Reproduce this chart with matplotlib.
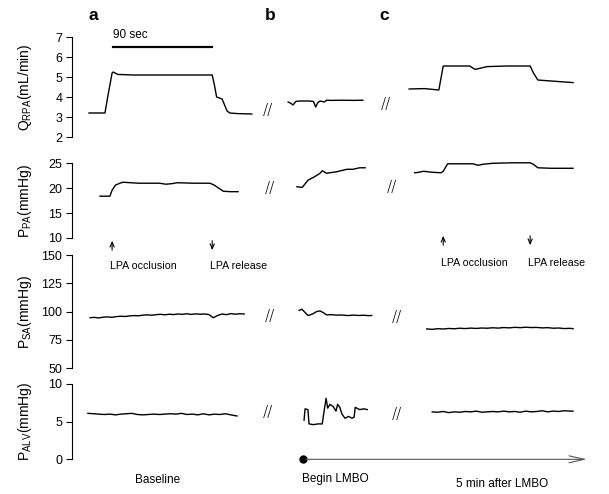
"""Hemodynamic traces at baseline, at LMBO onset and 5 min after LMBO."""

import matplotlib
matplotlib.use("Agg")
import matplotlib.pyplot as plt

plt.rcParams["font.family"] = ["Liberation Sans", "DejaVu Sans"]
plt.rcParams["mathtext.fontset"] = "custom"
plt.rcParams["mathtext.rm"] = "Liberation Sans"
plt.rcParams["mathtext.it"] = "Liberation Sans"

# ---- traces (time in s) ----
# Q_RPA (mL/min)
q_a_t = [0, 14.5, 17, 21, 22, 26, 40, 60, 80, 100, 112, 114, 116, 121, 125.5, 128, 135, 148]
q_a_v = [3.2, 3.2, 4.0, 5.2, 5.25, 5.13, 5.1, 5.1, 5.1, 5.1, 5.1, 4.6, 4.0, 3.9, 3.3, 3.2, 3.17, 3.15]
q_b_t = [181, 183, 185.5, 188, 192, 200, 204, 206, 208, 210, 214, 216, 220, 230, 240, 249]
q_b_v = [3.75, 3.7, 3.6, 3.78, 3.8, 3.8, 3.78, 3.5, 3.72, 3.8, 3.75, 3.84, 3.83, 3.84, 3.83, 3.84]
q_c_t = [291, 305, 318, 322, 330, 346, 351, 362, 380, 401, 404, 408, 420, 440]
q_c_v = [4.4, 4.42, 4.35, 5.55, 5.55, 5.55, 5.38, 5.52, 5.55, 5.55, 5.2, 4.85, 4.8, 4.72]

# P_PA (mmHg)
ppa_a_t = [10, 19, 21, 24, 28, 31, 45, 64, 70, 75, 80, 95, 110, 114, 118, 122, 128, 135.5]
ppa_a_v = [18.4, 18.4, 19.6, 20.6, 21.0, 21.2, 21.0, 21.0, 20.8, 20.9, 21.1, 21.0, 21.0, 20.6, 20.0, 19.4, 19.3, 19.3]
ppa_b_t = [189, 192, 194, 199, 205, 210, 212, 216, 225, 234.5, 240, 246, 251]
ppa_b_v = [20.3, 20.2, 20.2, 21.6, 22.3, 23.0, 23.5, 23.0, 23.3, 23.8, 23.8, 24.1, 24.1]
ppa_c_t = [296, 300, 304, 312, 320, 322, 326, 340, 349, 353.6, 358, 367, 385, 401, 404, 408, 420, 440]
ppa_c_v = [23.1, 23.2, 23.4, 23.2, 23.1, 23.4, 24.9, 24.9, 24.9, 24.6, 24.8, 25.0, 25.1, 25.1, 24.8, 24.1, 24.0, 24.0]

# P_SA (mmHg)
psa_a_t = [1, 5, 9, 13, 17, 21, 25, 29, 33, 37, 41, 45, 49, 53, 57, 61, 65, 69,
           73, 77, 81, 85, 89, 93, 97, 101, 105, 109, 113, 117, 121, 125, 129, 133, 137, 141]
psa_a_v = [94.5, 94.8, 94.3, 95.0, 95.2, 94.9, 95.5, 95.8, 95.6, 96.1, 96.4, 96.2,
           96.8, 97.0, 96.7, 97.2, 97.5, 97.1, 97.6, 97.3, 97.8, 97.5, 98.0, 97.4,
           97.9, 97.6, 97.8, 97.3, 94.5, 96.5, 97.8, 97.2, 98.1, 97.6, 98.0, 97.8]
psa_b_t = [191, 193.6, 196, 199, 201, 203.6, 207, 210, 213, 216, 220, 225, 230, 235, 240, 245, 250, 254, 257]
psa_b_v = [101, 102, 99.5, 96.5, 97, 98, 100, 100.5, 99, 97, 97.2, 96.8, 96.9, 96.4, 96.8, 96.5, 96.7, 96.3, 96.5]
psa_c_t = [307, 312, 317, 322, 327, 332, 337, 342, 347, 352, 357, 362, 367, 372,
           377, 382, 387, 392, 397, 402, 407, 412, 417, 422, 427, 432, 437, 440]
psa_c_v = [84.6, 84.2, 84.8, 84.5, 85.0, 84.7, 85.2, 84.9, 85.3, 85.0, 85.4, 85.2,
           85.6, 85.3, 85.8, 85.5, 86.0, 85.7, 86.1, 85.8, 85.9, 85.5, 85.7, 85.2,
           85.4, 84.9, 85.1, 84.8]

# P_ALV (mmHg)
palv_a_t = [-1, 4, 9, 14, 19, 24, 29, 34, 39, 44, 49, 54, 59, 64, 69, 74, 79, 84,
            89, 94, 99, 104, 109, 114, 119, 124, 129, 134.5]
palv_a_v = [6.1, 6.05, 6.0, 5.95, 6.0, 5.9, 6.0, 6.05, 6.1, 5.95, 5.9, 5.95, 6.0,
            5.95, 6.0, 6.05, 6.0, 6.1, 5.95, 6.0, 5.9, 6.05, 5.9, 6.0, 5.95, 6.05, 5.9, 5.75]
palv_b_t = [195.5, 196.4, 199, 200, 204, 208, 212, 213.6, 215.5, 217, 219, 222,
            224.5, 226, 228, 230, 232.7, 236, 239, 241, 242, 246, 250, 253]
palv_b_v = [5.2, 6.7, 6.6, 4.7, 4.6, 4.7, 4.7, 6.3, 8.1, 6.8, 7.3, 7.0, 6.4, 7.3,
            6.9, 6.0, 5.45, 5.7, 5.45, 5.6, 6.9, 6.6, 6.7, 6.6]
palv_c_t = [312, 317, 322, 327, 332, 337, 342, 347, 352, 357, 362, 367, 372, 377,
            382, 387, 392, 397, 402, 407, 412, 417, 422, 427, 432, 437, 440]
palv_c_v = [6.3, 6.25, 6.35, 6.2, 6.3, 6.25, 6.35, 6.3, 6.4, 6.25, 6.3, 6.35, 6.3,
            6.4, 6.3, 6.35, 6.25, 6.4, 6.3, 6.35, 6.45, 6.3, 6.4, 6.35, 6.45, 6.4, 6.4]

ylabels = [r"Q$_{\mathrm{RPA}}$(mL/min)", r"P$_{\mathrm{PA}}$(mmHg)",
           r"P$_{\mathrm{SA}}$(mmHg)", r"P$_{\mathrm{ALV}}$(mmHg)"]
ylims = [(2, 7), (10, 25), (50, 150), (0, 10)]
yticks = [[2, 3, 4, 5, 6, 7], [10, 15, 20, 25], [50, 75, 100, 125, 150], [0, 5, 10]]
traces = [
    [(q_a_t, q_a_v), (q_b_t, q_b_v), (q_c_t, q_c_v)],
    [(ppa_a_t, ppa_a_v), (ppa_b_t, ppa_b_v), (ppa_c_t, ppa_c_v)],
    [(psa_a_t, psa_a_v), (psa_b_t, psa_b_v), (psa_c_t, psa_c_v)],
    [(palv_a_t, palv_a_v), (palv_b_t, palv_b_v), (palv_c_t, palv_c_v)],
]

W, H = 609, 494
# (top px, bottom px) of each panel's tick range
panel_px = [(37, 137), (163.3, 238), (255, 368), (384, 459.3)]
breaks = [[(163, 3.35), (270, 3.6)], [(164.5, 20.0), (275.5, 20.2)],
          [(164.5, 95.3), (280, 94.4)], [(163, 6.15), (280, 5.9)]]

fig = plt.figure(figsize=(W / 100, H / 100), dpi=100)
axes = []
for i in range(4):
    top, bot = panel_px[i]
    ax = fig.add_axes([72 / W, 1 - bot / H, 528 / W, (bot - top) / H])
    ax.set_xlim(-15.45, 464.5)
    ax.set_ylim(*ylims[i])
    ax.set_yticks(yticks[i])
    ax.tick_params(axis="y", labelsize=9, length=4, width=0.8, pad=3, direction="out")
    ax.set_xticks([])
    for side in ("top", "right", "bottom"):
        ax.spines[side].set_visible(False)
    ax.spines["left"].set_bounds(*ylims[i])
    ax.spines["left"].set_linewidth(0.8)
    ax.patch.set_alpha(0)
    for t, v in traces[i]:
        ax.plot(t, v, color="black", lw=1.0, clip_on=False)
    for bx, by in breaks[i]:
        ax.text(bx, by, "//", fontsize=11, ha="center", va="center",
                family="DejaVu Sans", fontweight="light")
    ax.set_ylabel(ylabels[i], fontsize=10)
    ax.yaxis.set_label_coords(-0.072, 0.5)
    axes.append(ax)

ax_q, ax_ppa, ax_psa, ax_alv = axes

# panel letters and the 90 s bar
for x, lab in [(3.6, "a"), (164.5, "b"), (268.6, "c")]:
    ax_q.text(x, 8.1, lab, fontsize=12.5, fontweight="bold", ha="center", va="center")
ax_q.text(21.8, 7.1, "90 sec", fontsize=8.5, ha="left", va="center")
ax_q.plot([22, 112], [6.5, 6.5], color="black", lw=1.6, clip_on=False)

# occlusion / release arrows
arrow_kw = dict(arrowstyle="->,head_length=0.35,head_width=0.15", lw=0.8, color="black")
for x0, ylo, yhi, ytxt in [(21, 7.0, 10.0, 4.4), (322, 8.0, 11.0, 5.0)]:
    ax_ppa.annotate("", xy=(x0, yhi), xytext=(x0, ylo), arrowprops=arrow_kw, annotation_clip=False)
    ax_ppa.text(x0 - 2, ytxt, "LPA occlusion", fontsize=7.7, ha="left", va="center")
for x0, ylo, yhi, ytxt in [(112, 7.0, 10.0, 4.4), (401, 8.0, 11.0, 5.0)]:
    ax_ppa.annotate("", xy=(x0, ylo), xytext=(x0, yhi), arrowprops=arrow_kw, annotation_clip=False)
    ax_ppa.text(x0 - 2, ytxt, "LPA release", fontsize=7.7, ha="left", va="center")

# time line
ax_alv.annotate("", xy=(455, 0), xytext=(194.5, 0), annotation_clip=False,
                arrowprops=dict(arrowstyle="->,head_length=1.1,head_width=0.25", lw=0.8, color="#555555"))
ax_alv.plot([194.5], [0], "o", color="black", ms=5, clip_on=False)
ax_alv.text(62, -2.75, "Baseline", fontsize=8.5, ha="center", va="center")
ax_alv.text(224, -2.6, "Begin LMBO", fontsize=8.5, ha="center", va="center")
ax_alv.text(375.5, -3.3, "5 min after LMBO", fontsize=8.5, ha="center", va="center")

fig.savefig("out.png", dpi=100)
